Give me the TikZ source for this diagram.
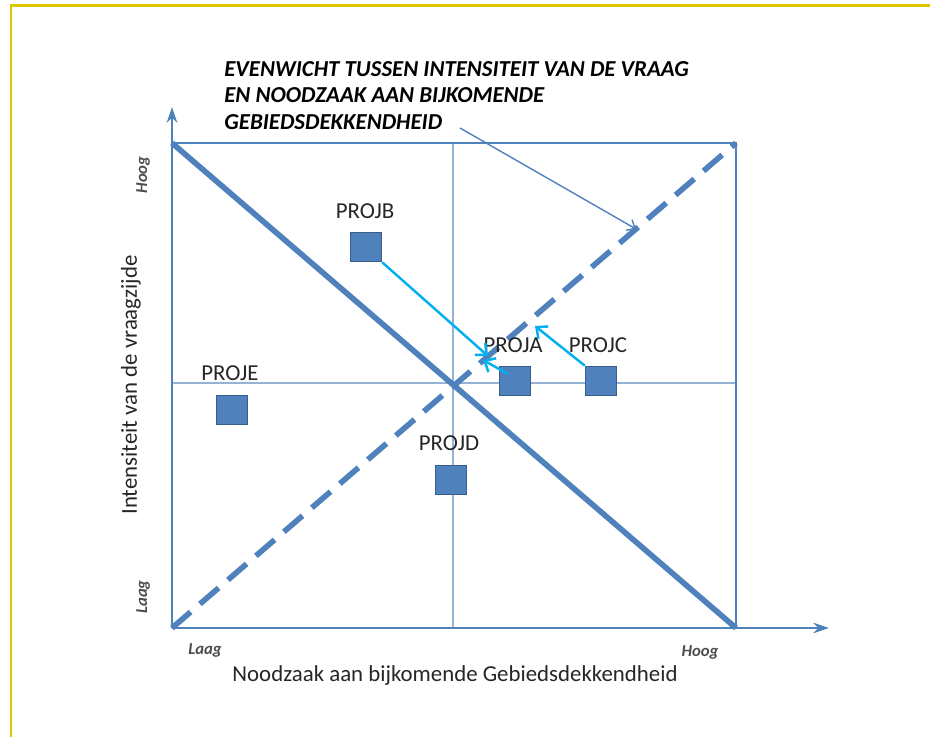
\documentclass[tikz,border=0pt]{standalone}
\usepackage{fontspec}
\setmainfont{Carlito}
\usetikzlibrary{arrows.meta}
\definecolor{clrline}{HTML}{4F81BD}
\definecolor{clrthin}{HTML}{95B3D7}
\definecolor{clrborder}{HTML}{385D8A}
\definecolor{clrmove}{HTML}{00B0F0}
\definecolor{clrframe}{HTML}{DDC800}
\tikzset{
    MyProj/.style={rectangle,fill=clrline,draw=clrborder,line width=0.9pt,
    minimum width=17.5pt,minimum height=16.5pt,inner sep=0pt},
    MyLabel/.style={font=\fontsize{13}{15}\selectfont,text=black!85},
    MyTick/.style={font=\fontsize{9.5}{11}\selectfont\itshape\bfseries,text=black!70},
    MyMove/.style={-{Straight Barb[length=5pt,width=9pt]},clrmove,line width=1.4pt}    }

\begin{document}
\begin{tikzpicture}[x=0.02cm,y=-0.02cm,axis/.style={-{Stealth[length=9pt,width=6pt]},clrline,line width=1.6pt}]
    \useasboundingbox (0,0) rectangle (930,737);
    \draw[clrframe,line width=1.3pt] (11,737) -- (11,5.5) -- (930,5.5);

    \coordinate (O) at (172,628);% origin of the matrix
    \coordinate (TL) at (172,143);
    \coordinate (TR) at (736,143);
    \coordinate (BR) at (736,628);

    % quadrants
    \draw[clrthin,line width=1pt] (453,143) -- (453,628);
    \draw[clrthin,line width=1pt] (172,383) -- (736,383);
    \draw[clrline,line width=1.4pt] (TL) -- (TR) -- (BR);

    % axes
    \draw[axis] (O) -- (172,107);
    \draw[axis] (O) -- (829,628);

    % diagonals
    \draw[clrline,line width=3.2pt] (TL) -- (BR);
    \draw[clrline,line width=3.2pt,dash pattern=on 14pt off 7pt] (O) -- (TR);

    % axis texts
    \node[MyLabel,rotate=90] (ylabel) at (131,385) {Intensiteit van de vraagzijde};
    \node[MyLabel] (xlabel) at (455,676) {Noodzaak aan bijkomende Gebiedsdekkendheid};
    \node[MyTick,rotate=90] (yhigh) at (143,175) {Hoog};
    \node[MyTick,rotate=90] (ylow) at (143,597) {Laag};
    \node[MyTick] (xlow) at (205,650) {Laag};
    \node[MyTick] (xhigh) at (700,652) {Hoog};

    % projects
    \node[MyProj] (projB) at (366,247) {};
    \node[MyProj] (projA) at (515,381) {};
    \node[MyProj] (projC) at (601,381) {};
    \node[MyProj] (projD) at (451,480) {};
    \node[MyProj] (projE) at (232,410) {};
    \node[MyLabel] at (365,211) {PROJB};
    \node[MyLabel] at (513,345) {PROJA};
    \node[MyLabel] at (598,345) {PROJC};
    \node[MyLabel] at (449,443) {PROJD};
    \node[MyLabel] at (230,373) {PROJE};

    % moves towards the balance line
    \coordinate (toB) at (488,356);
    \coordinate (toA) at (483,360);
    \coordinate (toC) at (535,326);
    \draw[MyMove] (projB.south east) -- (toB);
    \draw[MyMove] (508,374) -- (toA);
    \draw[MyMove] (projC.north west) -- (toC);

    % title of the balance line
    \node[anchor=north west,align=left,font=\fontsize{13}{15}\selectfont\bfseries\itshape,
      inner sep=0pt] (title) at (224,61)
      {EVENWICHT TUSSEN INTENSITEIT VAN DE VRAAG\\EN NOODZAAK AAN BIJKOMENDE\\GEBIEDSDEKKENDHEID};
    \coordinate (titleend) at (460,128);
    \coordinate (balance) at (636,229);
    \draw[clrline,line width=0.8pt,-{Straight Barb[length=4pt,width=7pt]}] (titleend) -- (balance);
\end{tikzpicture}
\end{document}
